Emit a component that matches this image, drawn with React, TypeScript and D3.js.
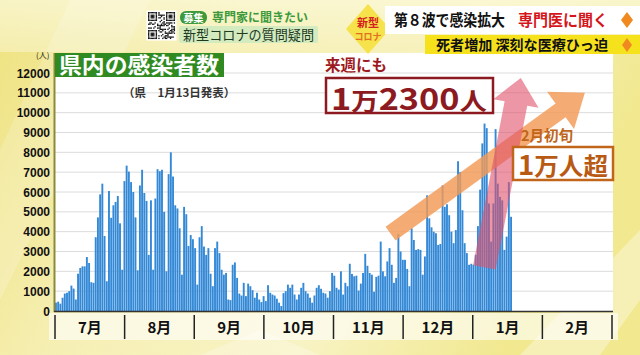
import React from 'react';
import * as d3 from 'd3';

// daily new cases, in chronological chunks
const casesJulAug = [
  420, 470, 370,
  670, 880, 920, 1000, 1280, 1130, 580,
  1880, 2170, 2250, 2250, 2720, 2420, 1450, 1420,
  3720, 4720, 5880, 6420, 3780, 1500,
  6050, 4700, 5330, 5500, 5800, 4420, 2080,
  6550, 7330, 7030, 6500, 6000, 4720, 2050,
  6330, 7120, 5950, 5550, 2830, 5580, 2080,
  5670, 7150, 7050, 7120, 5000, 2000,
  6900,
];
const casesAugOct = [
  8000, 6780, 5330, 5170, 4170, 1830,
  5250, 4880, 3280, 3830, 3620, 3170, 1330,
  3720, 4280, 3250, 2830, 3170, 1880, 1250,
  3170, 3500, 2920, 2080, 1830, 1920, 580,
  550, 2330, 2450, 1670, 880, 780, 1420, 750,
  1380, 1250, 1050, 670, 920, 580, 450,
  750, 500, 1300, 920, 830, 780, 620,
  420, 250, 900, 1000, 1330,
];
const casesOctDec = [
  1170, 1330, 830, 580, 830, 1170, 1420, 1000, 880, 670,
  420, 780, 1170, 1300, 1120, 920, 880, 670, 1000, 1920,
  1780, 1170, 1080, 2000, 830, 1420, 1250, 2380, 1870, 1750,
  1780, 1030, 1380, 1920, 2880, 2280, 1920, 1830, 970, 1720,
  1780, 3500, 2000, 1750, 2500, 3170, 2330, 1420, 1670, 3880,
  3000, 2580,
];
const casesDecJan = [
  2580, 2120, 1250,
  4170, 3580, 3080, 3120, 3080, 1830, 2750,
  5830, 4670, 4220, 4000, 3920, 3330, 3380,
  6330, 5250, 5380, 4830, 4000, 3420, 4080,
  7550, 7000, 5080, 3420, 2920, 2330, 2380, 2330, 2830,
  4280, 6120, 8450, 9450, 9220, 5420, 3500, 5420,
  9170, 6420, 5750, 5580, 3080, 3750, 6500, 4750,
];
const cases = [...casesJulAug, ...casesAugOct, ...casesOctDec, ...casesDecJan];

const months = ['7月', '8月', '9月', '10月', '11月', '12月', '1月', '2月'];
const yTicks = [0, 1000, 2000, 3000, 4000, 5000, 6000, 7000, 8000, 9000, 10000, 11000, 12000];

// annotation anchors in data space: [bar index, value]
const orangeArrow = [[152, 3900], [240, 11000]];
const pinkArrow = [[194.5, 2200], [211, 11750]];

const W = 640, H = 355;
const plotL = 55, plotR = 613, plotT = 53, baseY = 311, dataR = 512;

const CJK = '"Noto Sans CJK JP", "Noto Sans", sans-serif';
const NARROW = '"Liberation Sans Narrow", "Arial Narrow", "Liberation Sans", sans-serif';

function arrowPts(x0: number, y0: number, x1: number, y1: number, sw: number, hw: number, hl: number) {
  const dx = x1 - x0, dy = y1 - y0, L = Math.hypot(dx, dy);
  const ux = dx / L, uy = dy / L, px = -uy, py = ux;
  const bx = x1 - ux * hl, by = y1 - uy * hl;
  const p = [
    [x0 + px * sw / 2, y0 + py * sw / 2],
    [bx + px * sw / 2, by + py * sw / 2],
    [bx + px * hw / 2, by + py * hw / 2],
    [x1, y1],
    [bx - px * hw / 2, by - py * hw / 2],
    [bx - px * sw / 2, by - py * sw / 2],
    [x0 - px * sw / 2, y0 - py * sw / 2],
  ];
  return p.map((q) => q.join(',')).join(' ');
}

function QR({ x, y, s }: { x: number; y: number; s: number }) {
  const n = 21;
  const c = s / n;
  const cells: JSX.Element[] = [];
  const seed = '新型コロナの質問疑問専門家に聞きたい募集';
  for (let i = 0; i < n; i++) {
    for (let j = 0; j < n; j++) {
      const inFinder = (a: number, b: number) => i >= a && i < a + 7 && j >= b && j < b + 7;
      let on = false;
      if (inFinder(0, 0) || inFinder(0, n - 7) || inFinder(n - 7, 0)) {
        const fi = i < 7 ? i : i - (n - 7);
        const fj = j < 7 ? j : j - (n - 7);
        on = fi === 0 || fi === 6 || fj === 0 || fj === 6 || (fi >= 2 && fi <= 4 && fj >= 2 && fj <= 4);
      } else if ((i < 8 && j < 8) || (i < 8 && j >= n - 8) || (i >= n - 8 && j < 8)) {
        on = false;
      } else {
        const k = seed.charCodeAt((i * 7 + j * 3) % seed.length) + i * 13 + j * 7;
        on = k % 3 === 0 || k % 5 === 1;
      }
      if (on) cells.push(<rect key={i + '-' + j} x={x + j * c} y={y + i * c} width={c + 0.05} height={c + 0.05} fill="#111" />);
    }
  }
  return (
    <g>
      <rect x={x - 1.5} y={y - 1.5} width={s + 3} height={s + 3} fill="#fff" />
      {cells}
    </g>
  );
}

export default function App() {
  const N = cases.length;
  const y = d3.scaleLinear().domain([0, 12000]).range([baseY, 73]);
  const xBar = d3.scaleBand<number>().domain(d3.range(N)).range([plotL, dataR]).paddingInner(0.14);
  const xIdx = d3.scaleLinear().domain([0, N]).range([plotL, dataR]);
  const xMonth = d3.scaleBand<string>().domain(months).range([plotL, 612]);

  const oa = orangeArrow.map(([i, v]) => [xIdx(i), y(v)]);
  const pa = pinkArrow.map(([i, v]) => [xIdx(i), y(v)]);

  return (
    <div style={{ position: 'fixed', left: 0, top: 0 }}>
      <svg width={W} height={H} viewBox={`0 0 ${W} ${H}`} style={{ display: 'block' }}>
        <defs>
          <linearGradient id="bg" x1="0" y1="0" x2="1" y2="0.3">
            <stop offset="0" stopColor="#eee27e" />
            <stop offset="0.35" stopColor="#f6efb4" />
            <stop offset="0.7" stopColor="#f8f3c4" />
            <stop offset="1" stopColor="#f1e88f" />
          </linearGradient>
          <linearGradient id="topbg" x1="0" y1="0" x2="0" y2="1">
            <stop offset="0" stopColor="#fbf8d6" />
            <stop offset="1" stopColor="#f6f0b8" />
          </linearGradient>
        </defs>
        {/* background */}
        <rect x={0} y={0} width={W} height={H} fill="url(#bg)" />
        <rect x={0} y={0} width={W} height={52} fill="url(#topbg)" opacity={0.8} />
        <polygon points="0,150 70,0 150,0 0,300" fill="#ffffff" opacity={0.18} />
        <polygon points="520,355 640,230 640,300 600,355" fill="#ffffff" opacity={0.35} />
        <polygon points="200,355 260,330 320,355" fill="#ffffff" opacity={0.25} />

        {/* plot area */}
        <rect x={plotL} y={plotT} width={plotR - plotL} height={baseY - plotT} fill="#ffffff" />
        {yTicks.filter((t) => t > 0).map((t) => (
          <line key={t} x1={plotL} x2={plotR} y1={y(t)} y2={y(t)} stroke="#dcdcdc" strokeWidth={1} />
        ))}

        {/* bars */}
        {cases.map((v, i) => (
          <rect key={i} x={xBar(i)} y={y(v)} width={xBar.bandwidth()} height={baseY - y(v)} fill="#3489d6" />
        ))}

        {/* axes */}
        <line x1={plotL - 0.5} x2={plotL - 0.5} y1={plotT} y2={baseY + 1} stroke="#8a8a3c" strokeWidth={2} />
        <line x1={plotL - 1} x2={plotR} y1={baseY + 0.5} y2={baseY + 0.5} stroke="#333" strokeWidth={1.5} />
        {yTicks.map((t) => (
          <text key={t} x={50} y={y(t) + 4.5} textAnchor="end" fontFamily={NARROW} fontWeight={700} fontSize={12} fill="#111">
            {t}
          </text>
        ))}
        <text x={36} y={58} fontFamily={CJK} fontSize={8} fill="#222">(人)</text>

        {/* month axis */}
        <rect x={plotL - 6} y={baseY + 2} width={612 - plotL + 12} height={27} fill="#ffffff" opacity={0.6} />
        {months.map((m) => (
          <text key={m} x={(xMonth(m) as number) + xMonth.bandwidth() / 2} y={333} textAnchor="middle" fontFamily={CJK} fontWeight={700} fontSize={15} fill="#111">
            {m}
          </text>
        ))}
        {[...months.map((m) => xMonth(m) as number), 612].map((xx, i) => (
          <line key={i} x1={xx} x2={xx} y1={315} y2={339} stroke="#222" strokeWidth={1.5} />
        ))}

        {/* title */}
        <rect x={plotL} y={plotT} width={169} height={24} fill="#2f8a22" />
        <text x={59} y={73} fontFamily={CJK} fontWeight={700} fontSize={22} fill="#fff" textLength={160} lengthAdjust="spacingAndGlyphs">
          県内の感染者数
        </text>
        <text x={123} y={97} fontFamily={CJK} fontWeight={700} fontSize={11.5} fill="#333">
          （県　1月13日発表）
        </text>

        {/* arrows */}
        <polygon points={arrowPts(oa[0][0], oa[0][1], oa[1][0], oa[1][1], 17, 46, 30)} fill="#f29a55" opacity={0.82} />
        <polygon points={arrowPts(pa[0][0], pa[0][1], pa[1][0], pa[1][1], 23, 46, 26)} fill="#e0506a" opacity={0.6} />

        {/* annotations */}
        <text x={325} y={71} fontFamily={CJK} fontWeight={700} fontSize={15.5} fill="#9e1a22">来週にも</text>
        <rect x={326} y={78} width={167} height={35} fill="#fff" stroke="#8c1a20" strokeWidth={2.5} />
        <text x={331} y={109.5} fontFamily={CJK} fontWeight={700} fill="#8c1a20" textLength={156} lengthAdjust="spacingAndGlyphs">
          <tspan fontSize={30}>1</tspan>
          <tspan fontSize={24}>万</tspan>
          <tspan fontSize={30}>2300</tspan>
          <tspan fontSize={24}>人</tspan>
        </text>
        <text x={521} y={141} fontFamily={CJK} fontWeight={700} fontSize={14.5} fill="#c0651a">2月初旬</text>
        <rect x={513} y={147} width={100} height={33} fill="#fff" stroke="#c0651a" strokeWidth={2.5} />
        <text x={518} y={175} fontFamily={CJK} fontWeight={700} fill="#b85a14" textLength={90} lengthAdjust="spacingAndGlyphs">
          <tspan fontSize={27}>1</tspan>
          <tspan fontSize={24}>万人超</tspan>
        </text>

        {/* header */}
        <QR x={148} y={12} s={27} />
        <rect x={180} y={11} width={27} height={13} rx={6} fill="#3c9a3c" />
        <text x={193.5} y={21.5} textAnchor="middle" fontFamily={CJK} fontWeight={700} fontSize={10} fill="#fff">募集</text>
        <text x={212} y={22} fontFamily={CJK} fontWeight={700} fontSize={12} fill="#3c9a3c">専門家に聞きたい</text>
        <rect x={179} y={26} width={139} height={17} rx={2} fill="#d3ebbf" />
        <text x={183} y={40} fontFamily={CJK} fontSize={14} fill="#1f3a1f" textLength={131} lengthAdjust="spacingAndGlyphs">新型コロナの質問疑問</text>

        <polygon points="368,4 390,29 368,54 346,29" fill="#f6e24a" />
        <text x={368} y={27} textAnchor="middle" fontFamily={CJK} fontWeight={700} fontSize={11} fill="#d42020">新型</text>
        <text x={368} y={40} textAnchor="middle" fontFamily={CJK} fontWeight={700} fontSize={9} fill="#e07020">コロナ</text>

        <rect x={385} y={6} width={255} height={28} fill="#ffffff" />
        <text x={394} y={26} fontFamily={CJK} fontWeight={700} fontSize={16} fill="#111" textLength={111} lengthAdjust="spacingAndGlyphs">
          第８波で感染拡大
        </text>
        <text x={518} y={26} fontFamily={CJK} fontWeight={700} fontSize={16} fill="#d4161c" textLength={90} lengthAdjust="spacingAndGlyphs">
          専門医に聞く
        </text>
        <polygon points="627,12 633,20 627,28 621,20" fill="#f08a20" />
        <rect x={425} y={35} width={215} height={19} fill="#f6e21c" />
        <text x={436} y={50} fontFamily={CJK} fontWeight={700} fontSize={14} fill="#111" textLength={172} lengthAdjust="spacingAndGlyphs">死者増加 深刻な医療ひっ迫</text>
        <polygon points="627,38 632,45 627,52 622,45" fill="#f08a20" />
      </svg>
    </div>
  );
}
